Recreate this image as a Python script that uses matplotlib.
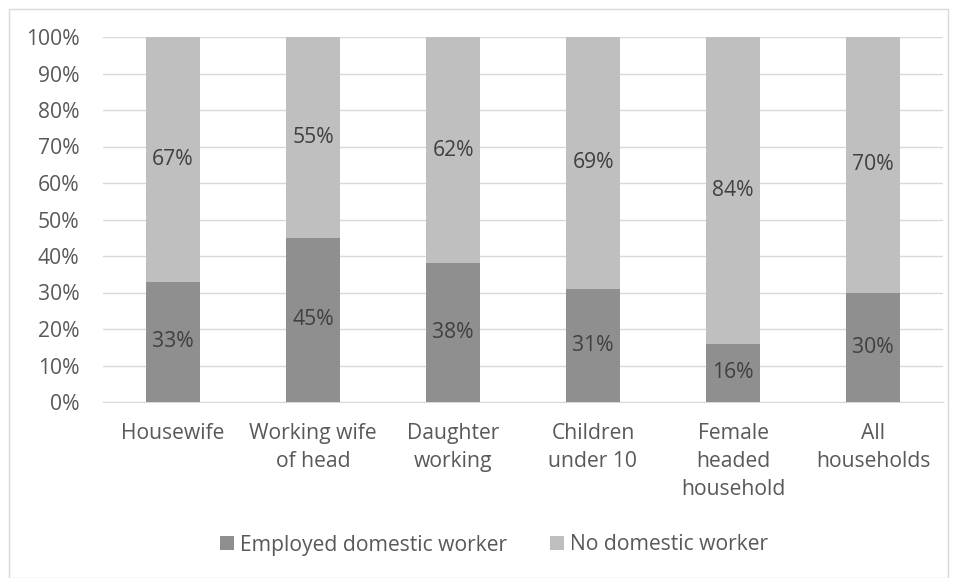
import matplotlib.pyplot as plt
import numpy as np
from matplotlib.patches import Rectangle

plt.rcParams['font.family'] = ['Open Sans', 'DejaVu Sans']

categories = ['Housewife', 'Working wife\nof head', 'Daughter\nworking',
              'Children\nunder 10', 'Female\nheaded\nhousehold', 'All\nhouseholds']
employed = [33, 45, 38, 31, 16, 30]
no_worker = [67, 55, 62, 69, 84, 70]

txt = '#595959'
fs = 15.2
fig = plt.figure(figsize=(9.57, 5.78), dpi=100)
fig.patches.append(Rectangle((9/957, 0), 939/957, 1 - 9/578, transform=fig.transFigure,
                             fill=False, edgecolor='#d9d9d9', linewidth=1))
ax = fig.add_axes([103/957, 1 - 402/578, 840/957, 365/578])

x = np.arange(len(categories))
b1 = ax.bar(x, employed, width=0.39, color='#8f8f8f', label='Employed domestic worker', zorder=3)
b2 = ax.bar(x, no_worker, width=0.39, bottom=employed, color='#bfbfbf', label='No domestic worker', zorder=3)

for i in range(len(x)):
    ax.text(x[i], employed[i] / 2, '%d%%' % employed[i], ha='center', va='center', fontsize=fs, color='#404040', zorder=4)
    ax.text(x[i], employed[i] + no_worker[i] / 2, '%d%%' % no_worker[i], ha='center', va='center', fontsize=fs, color='#404040', zorder=4)

ax.set_xlim(-0.5, len(categories) - 0.5)
ax.set_ylim(0, 100)
ax.set_yticks(np.arange(0, 101, 10))
ax.set_yticklabels(['%d%%' % v for v in range(0, 101, 10)])
ax.set_xticks(x)
ax.set_xticklabels(categories, va='top', linespacing=1.45)
ax.tick_params(axis='both', length=0, colors=txt, labelsize=fs)
ax.tick_params(axis='x', pad=15)
ax.tick_params(axis='y', pad=17)
ax.grid(axis='y', color='#d9d9d9', linewidth=1, zorder=0)
for s in ['top', 'right', 'left']:
    ax.spines[s].set_visible(False)
ax.spines['bottom'].set_color('#d9d9d9')

fig.legend(handles=[b1, b2], loc='center', bbox_to_anchor=(494/957, 1 - 545/578), ncol=2,
           frameon=False, fontsize=fs, labelcolor=txt, handlelength=0.66, handleheight=0.66,
           handletextpad=0.3, columnspacing=2.0)

plt.savefig('out.png', dpi=100)
